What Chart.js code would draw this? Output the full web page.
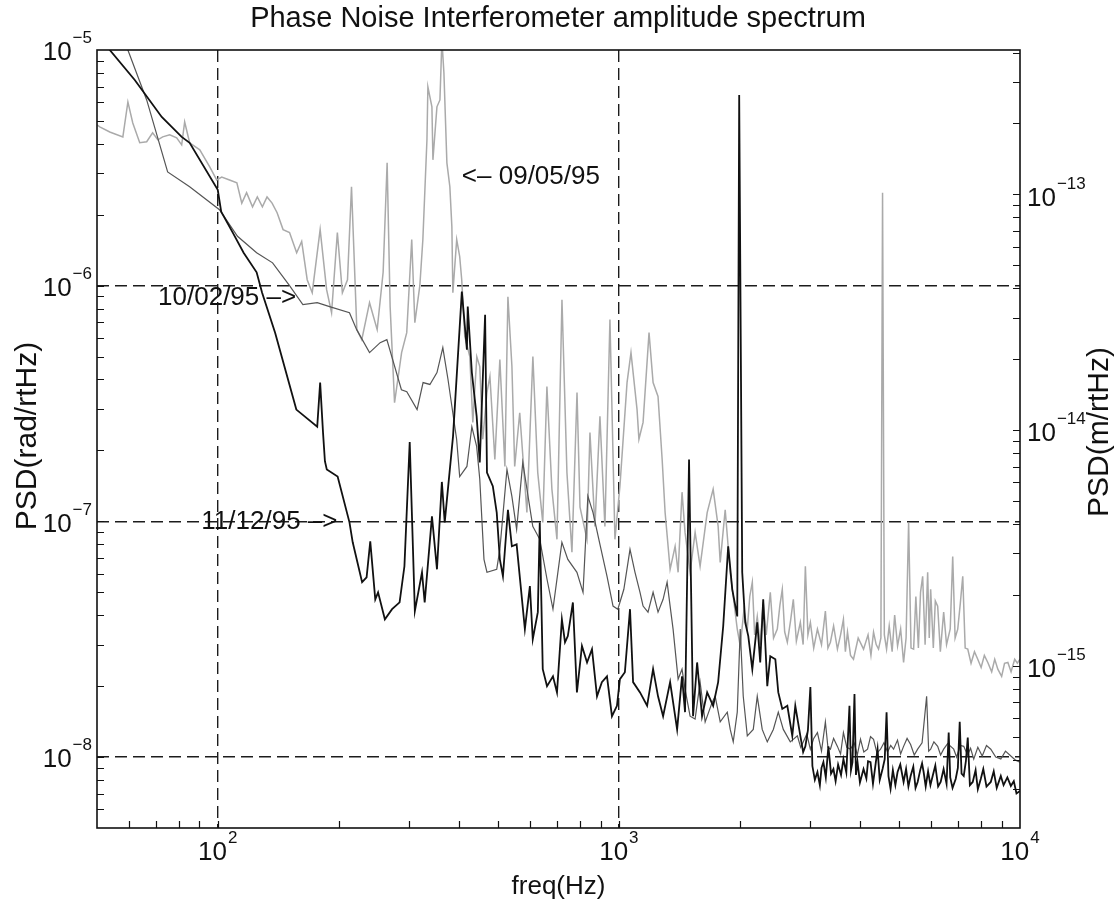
<!DOCTYPE html>
<html>
<head>
<meta charset="utf-8">
<script src="https://cdn.jsdelivr.net/npm/chart.js@4.4.0/dist/chart.umd.min.js"></script>
<style>
html,body{margin:0;padding:0;background:#fff;}
#wrap{width:1116px;height:907px;}
</style>
</head>
<body>
<div id="wrap"><canvas id="c" width="1116" height="907"></canvas></div>
<script>
// ---------- data ----------
const chartTitle = 'Phase Noise Interferometer amplitude spectrum';
const xTitle = 'freq(Hz)';
const yTitle = 'PSD(rad/rtHz)';
const y2Title = 'PSD(m/rtHz)';
const seriesNames = ['11/12/95', '10/02/95', '09/05/95'];

const freq1112 = [50,53.8,62.1,72.5,81.3,85.1,100,102,109,116,125,129,139,157,177,180,183,185,187,199,213,217,229,235,240,247,251,261,272,284,292,301,310,323,328,342,352,362,368,386,406,418,420,430,442,450,464,469,485,496,505,514,529,541,556,583,600,610,628,635,646,662,685,701,721,734,746,768,786,809,833,857,882,907,934,961,989,1006,1035,1066,1085,1129,1176,1217,1252,1289,1342,1397,1437,1462,1496,1531,1567,1612,1660,1718,1768,1820,1873,1917,1973,1995,2030,2065,2102,2151,2213,2251,2290,2344,2385,2455,2497,2555,2630,2706,2753,2834,2880,2917,2960,3002,3037,3080,3126,3170,3200,3235,3280,3329,3380,3427,3470,3520,3580,3629,3690,3757,3790,3823,3867,3900,3935,3990,4073,4140,4180,4240,4300,4360,4415,4470,4543,4600,4649,4700,4757,4820,4890,4952,5030,5126,5200,5270,5337,5420,5490,5557,5640,5700,5751,5820,5900,5980,6057,6150,6250,6342,6450,6560,6641,6700,6790,6913,7000,7075,7150,7240,7330,7409,7500,7624,7750,7850,7983,8100,8250,8456,8600,8750,8957,9100,9300,9488,9650,9800,10000];
const psd1112 = [1.17e-5,1.0e-5,7.46e-6,5.2e-6,4.28e-6,4.04e-6,2.55e-6,2.06e-6,1.68e-6,1.38e-6,1.14e-6,9.34e-7,6.32e-7,2.98e-7,2.52e-7,3.88e-7,2.38e-7,1.80e-7,1.66e-7,1.55e-7,9.9e-8,8.15e-8,5.52e-8,5.79e-8,8.23e-8,4.67e-8,5.0e-8,3.84e-8,4.24e-8,4.53e-8,6.45e-8,2.17e-7,4.16e-8,6.08e-8,4.53e-8,1.05e-7,6.26e-8,1.47e-7,9.9e-8,2.30e-7,9.44e-7,5.35e-7,8.15e-7,4.28e-7,2.79e-7,1.78e-7,7.53e-7,1.61e-7,1.41e-7,1.09e-7,6.90e-8,5.85e-8,1.12e-7,7.84e-8,7.99e-8,3.49e-8,5.31e-8,3.16e-8,4.12e-8,9.9e-8,2.36e-8,2.0e-8,2.2e-8,1.88e-8,3.84e-8,3.07e-8,3.26e-8,4.53e-8,1.88e-8,2.96e-8,2.52e-8,2.87e-8,1.81e-8,2.08e-8,2.2e-8,1.49e-8,1.65e-8,2.14e-8,2.29e-8,4.24e-8,2.08e-8,1.88e-8,1.65e-8,2.36e-8,1.81e-8,1.49e-8,2.08e-8,1.31e-8,2.2e-8,1.55e-8,1.83e-7,1.49e-8,2.52e-8,1.49e-8,1.88e-8,1.65e-8,2.08e-8,3.59e-8,7.84e-8,5.15e-8,3.95e-8,6.45e-6,6.08e-8,3.73e-8,3.26e-8,2.36e-8,3.73e-8,2.52e-8,4.67e-8,2.0e-8,2.68e-8,2.60e-8,1.88e-8,1.60e-8,1.65e-8,1.23e-8,1.65e-8,1.23e-8,1.05e-8,1.11e-8,1.3e-8,1.98e-8,9.16e-9,8.0e-9,8.64e-9,7.6e-9,9.0e-9,9.52e-9,8.2e-9,1.11e-8,8.5e-9,8.9e-9,7.9e-9,9.3e-9,8.4e-9,9.8e-9,8.6e-9,1.65e-8,8.8e-9,9.52e-9,1.85e-8,8.4e-9,9.52e-9,7.8e-9,8.9e-9,8.1e-9,9.6e-9,9.52e-9,7.7e-9,9.2e-9,1.08e-8,8.0e-9,8.9e-9,9.8e-9,1.55e-8,8.3e-9,7.32e-9,8.8e-9,7.6e-9,8.64e-9,9.3e-9,7.84e-9,8.9e-9,7.5e-9,8.31e-9,9.1e-9,7.4e-9,7.84e-9,8.8e-9,9.4e-9,8.64e-9,7.5e-9,8.7e-9,7.6e-9,8.31e-9,9.2e-9,7.5e-9,7.84e-9,8.9e-9,7.7e-9,1.27e-8,8.2e-9,7.4e-9,8.07e-9,9.0e-9,1.41e-8,8.5e-9,8.31e-9,9.6e-9,1.21e-8,7.6e-9,7.84e-9,8.8e-9,7.3e-9,8.07e-9,8.9e-9,7.5e-9,7.84e-9,8.7e-9,7.4e-9,8.31e-9,7.6e-9,8.2e-9,7.54e-9,7.9e-9,7.0e-9,7.18e-9];

const freq1002 = [50,59.7,66.5,75.0,85.1,101,112,125,137,151,163,177,190,213,222,239,254,264,287,296,314,325,338,352,364,375,394,401,418,430,442,450,461,469,496,505,526,541,556,576,610,635,662,685,721,746,786,814,837,862,897,934,967,994,1029,1066,1097,1129,1149,1182,1217,1252,1289,1319,1342,1365,1405,1437,1462,1505,1549,1594,1641,1709,1738,1789,1863,1895,1928,1973,2007,2042,2090,2163,2213,2277,2344,2427,2497,2570,2675,2786,2840,2883,2940,3002,3060,3126,3200,3272,3320,3368,3430,3506,3570,3629,3700,3779,3860,3930,4003,4080,4168,4240,4314,4400,4491,4580,4676,4760,4840,4950,5040,5126,5230,5337,5450,5557,5700,5851,5920,5988,6100,6234,6340,6452,6600,6835,6950,7100,7240,7400,7530,7668,7850,8050,8250,8456,8700,8957,9200,9488,9750,10000];
const psd1002 = [2.2e-5,1.0e-5,6.14e-6,3.04e-6,2.63e-6,2.10e-6,1.62e-6,1.38e-6,1.25e-6,1.0e-6,8.31e-7,8.47e-7,8.15e-7,7.68e-7,6.51e-7,5.2e-7,5.73e-7,5.90e-7,3.62e-7,3.55e-7,2.98e-7,3.88e-7,3.81e-7,4.28e-7,5.46e-7,4.0e-7,2.23e-7,1.55e-7,1.71e-7,2.52e-7,2.08e-7,1.51e-7,6.90e-8,6.08e-8,6.26e-8,7.61e-8,1.66e-7,1.28e-7,9.25e-8,1.78e-7,9.52e-8,8.39e-8,5.68e-8,4.24e-8,8.15e-8,6.90e-8,6.08e-8,5.0e-8,1.28e-7,1.09e-7,7.99e-8,5.85e-8,4.37e-8,4.24e-8,5.15e-8,7.61e-8,6.08e-8,5.0e-8,4.37e-8,4.12e-8,5.0e-8,4.12e-8,4.67e-8,5.52e-8,4.37e-8,3.49e-8,2.14e-8,2.36e-8,1.94e-8,1.49e-8,1.45e-8,2.08e-8,1.41e-8,1.71e-8,1.81e-8,1.41e-8,1.55e-8,1.31e-8,1.16e-8,1.55e-8,3.49e-8,1.81e-8,1.23e-8,1.31e-8,1.81e-8,1.31e-8,1.16e-8,1.31e-8,1.55e-8,1.31e-8,1.16e-8,1.23e-8,1.1e-8,1.16e-8,1.25e-8,1.08e-8,1.2e-8,1.27e-8,1.06e-8,1.41e-8,1.1e-8,1.08e-8,1.2e-8,1.11e-8,1.03e-8,1.27e-8,1.1e-8,1.08e-8,1.15e-8,1.02e-8,1.19e-8,1.05e-8,1.08e-8,1.22e-8,1.19e-8,1.04e-8,1.08e-8,1.15e-8,1.05e-8,1.12e-8,1.08e-8,1.18e-8,1.03e-8,1.11e-8,1.2e-8,1.13e-8,1.02e-8,1.08e-8,1.15e-8,1.81e-8,1.06e-8,1.08e-8,1.16e-8,1.11e-8,1.02e-8,1.08e-8,1.14e-8,1.08e-8,1.0e-8,1.12e-8,1.11e-8,1.02e-8,1.09e-8,9.8e-9,1.1e-8,1.01e-8,1.12e-8,1.08e-8,1.0e-8,9.8e-9,1.06e-8,1.01e-8,9.7e-9,9.52e-9];

const freq0905 = [50,50.8,53.8,58.0,59.7,61.4,63.9,66.5,68.8,70.9,72.9,75.9,79.0,81.3,82.7,85.1,90.2,95.5,99.4,102.3,107,111.6,114.8,118,122.1,125.5,129.2,132.7,136.6,140.6,145.5,151,157.3,161.9,167.1,172,180,186.8,192.2,198.7,204.5,210.6,215.5,222.2,228.6,239,249.7,258.4,264.4,269,275.9,287.3,295.9,304.5,310,319,324.6,332.3,334.1,341.9,343.9,351.9,358,362.1,366.3,372.6,379,383.4,385.6,394.2,401,405.7,412.9,425,432.4,442.4,450,457.8,468.9,477,490.7,505,519.8,528.9,541.2,549.9,566,589.8,610.4,627.7,646,661.6,680.8,700.9,721.3,742.2,763.8,786.4,800,832.6,847,871.6,897,923,950,977.6,1006,1048,1072,1110,1122,1149,1189,1217,1252,1282,1304,1342,1381,1405,1437,1462,1505,1549,1594,1660,1718,1768,1789,1841,1895,1973,2007,2050,2090,2120,2151,2180,2213,2250,2290,2330,2385,2430,2483,2520,2555,2590,2630,2680,2722,2770,2834,2880,2917,2960,3002,3060,3126,3200,3272,3320,3368,3430,3506,3570,3629,3670,3715,3780,3845,3950,4073,4180,4250,4314,4380,4439,4500,4543,4590,4649,4720,4800,4870,4952,5040,5126,5200,5276,5350,5430,5500,5580,5650,5719,5800,5886,5940,5988,6080,6150,6234,6330,6452,6560,6700,6796,6890,6995,7100,7199,7300,7409,7550,7700,7847,8000,8150,8313,8500,8650,8805,9000,9150,9327,9500,9700,9850,10000];
const psd0905 = [4.81e-6,4.72e-6,4.49e-6,4.28e-6,6.02e-6,4.90e-6,4.04e-6,4.08e-6,4.45e-6,4.16e-6,4.28e-6,4.37e-6,4.24e-6,3.96e-6,4.95e-6,4.04e-6,3.77e-6,3.19e-6,2.81e-6,2.89e-6,2.81e-6,2.73e-6,2.24e-6,2.48e-6,2.16e-6,2.38e-6,2.16e-6,2.38e-6,2.24e-6,2.04e-6,1.73e-6,1.68e-6,1.38e-6,1.54e-6,1.06e-6,9.34e-7,1.73e-6,9.62e-7,7.68e-7,1.68e-6,9.34e-7,1.06e-6,2.63e-6,6.51e-7,5.90e-7,8.47e-7,6.51e-7,1.14e-6,3.32e-6,8.15e-7,3.19e-7,5.2e-7,6.32e-7,1.57e-6,6.97e-7,1.0e-6,1.57e-6,4.16e-6,6.97e-6,5.74e-6,3.42e-6,5.74e-6,6.14e-6,1.1e-5,7.99e-6,3.32e-6,2.63e-6,1.78e-6,9.34e-7,1.57e-6,1.33e-6,1.06e-6,6.08e-7,5.0e-7,2.63e-7,5.0e-7,4.54e-7,2.23e-7,3.52e-7,4.12e-7,1.83e-7,4.86e-7,1.71e-7,8.98e-7,4.54e-7,1.71e-7,2.89e-7,1.09e-7,5.0e-7,1.61e-7,9.9e-8,3.73e-7,1.37e-7,8.39e-8,8.72e-7,1.61e-7,7.39e-8,3.52e-7,1.15e-7,8.39e-8,2.38e-7,9.52e-8,2.79e-7,9.52e-8,7.18e-7,8.39e-8,1.41e-7,3.88e-7,5.2e-7,2.98e-7,2.23e-7,2.63e-7,6.32e-7,3.88e-7,3.39e-7,1.83e-7,1.09e-7,6.26e-8,7.84e-8,6.08e-8,1.33e-7,8.98e-8,6.08e-8,8.98e-8,6.45e-8,1.09e-7,1.37e-7,9.52e-8,6.70e-8,1.12e-7,6.08e-8,3.49e-8,2.96e-8,4.2e-8,3.49e-8,4.8e-8,5.52e-8,3.3e-8,3.95e-8,3.0e-8,4.53e-8,3.3e-8,5.0e-8,3.2e-8,3.49e-8,4.4e-8,5.15e-8,3.4e-8,3.07e-8,3.8e-8,4.67e-8,3.1e-8,3.73e-8,3.0e-8,6.45e-8,3.3e-8,3.73e-8,2.9e-8,3.49e-8,3.0e-8,4.16e-8,2.9e-8,3.07e-8,3.6e-8,2.87e-8,3.3e-8,3.84e-8,2.8e-8,3.39e-8,2.7e-8,2.60e-8,3.2e-8,2.87e-8,3.3e-8,2.7e-8,3.39e-8,3.0e-8,2.87e-8,3.2e-8,2.48e-6,3.3e-8,2.87e-8,3.6e-8,2.8e-8,4.0e-8,2.96e-8,3.5e-8,2.52e-8,3.2e-8,9.9e-8,2.9e-8,2.87e-8,4.8e-8,2.9e-8,5.0e-8,5.85e-8,3.0e-8,6.08e-8,3.2e-8,5.15e-8,2.9e-8,4.6e-8,4.37e-8,2.8e-8,4.12e-8,3.0e-8,3.5e-8,7.1e-8,3.2e-8,3.49e-8,4.5e-8,5.85e-8,2.9e-8,2.87e-8,2.5e-8,2.8e-8,2.60e-8,2.4e-8,2.7e-8,2.52e-8,2.3e-8,2.6e-8,2.36e-8,2.2e-8,2.5e-8,2.52e-8,2.3e-8,2.6e-8,2.5e-8,2.60e-8];

// axis ranges and tick-label decades
const xRange = [50, 10000];
const yRange = [5e-9, 1e-5];
const radToMetre = 4.1e-8;               // right axis = left axis * this factor
const xDecades = [2, 3, 4];
const yDecades = [-5, -6, -7, -8];
const y2Decades = [-13, -14, -15];
// in-plot annotations: [text, freq, psd]
const notes = [
  ['<\u2013 09/05/95', 406, 2.9e-6],
  ['10/02/95 \u2013>', 71.0, 8.9e-7],
  ['11/12/95 \u2013>', 91.0, 1.0e-7]
];

// ---------- rendering ----------
const FONT = "'Liberation Sans', Arial, Helvetica, sans-serif";
const toPts = (xs, ys) => xs.map((x, i) => ({x: x, y: ys[i]}));
const isDecade = v => { const l = Math.log10(v); return Math.abs(l - Math.round(l)) < 1e-6; };
const gridCol = (c, lo, hi) => {
  if (!c.tick) return 'rgba(0,0,0,0)';
  const v = c.tick.value;
  return (isDecade(v) && v > lo * 1.001 && v < hi / 1.001) ? '#1c1c1c' : 'rgba(0,0,0,0)';
};
const tickVals = (lo, hi) => {
  const out = [];
  for (let e = Math.floor(Math.log10(lo)) - 1; e <= Math.ceil(Math.log10(hi)); e++) {
    for (let k = 1; k < 10; k++) {
      const v = k * Math.pow(10, e);
      if (v > lo * 1.0001 && v < hi / 1.0001) out.push(v);
    }
  }
  return out;
};

function drawPow(ctx, ex, x, yMid, align, bs, es) {
  const b = '10';
  const e = ex < 0 ? '\u2212' + Math.abs(ex) : String(ex);
  ctx.font = bs + 'px ' + FONT; const wb = ctx.measureText(b).width;
  ctx.font = es + 'px ' + FONT; const we = ctx.measureText(e).width;
  const total = wb + 1 + we;
  const x0 = align === 'right' ? x - total : (align === 'center' ? x - total / 2 : x);
  ctx.textAlign = 'left'; ctx.textBaseline = 'middle';
  ctx.font = bs + 'px ' + FONT; ctx.fillText(b, x0, yMid);
  ctx.font = es + 'px ' + FONT; ctx.fillText(e, x0 + wb + 1, yMid - bs * 0.55);
}

const decor = {
  id: 'decor',
  afterDraw(chart) {
    const {ctx, chartArea: a, scales} = chart;
    ctx.save();
    ctx.setLineDash([]);
    // inward tick marks
    ctx.strokeStyle = '#111'; ctx.lineWidth = 1.2;
    ctx.beginPath();
    for (const v of tickVals(xRange[0], xRange[1])) {
      const x = Math.round(scales.x.getPixelForValue(v)) + 0.5;
      ctx.moveTo(x, a.bottom); ctx.lineTo(x, a.bottom - 7);
    }
    for (const v of tickVals(yRange[0], yRange[1])) {
      const y = Math.round(scales.y.getPixelForValue(v)) + 0.5;
      ctx.moveTo(a.left, y); ctx.lineTo(a.left + 7, y);
    }
    for (const v of tickVals(yRange[0] * radToMetre, yRange[1] * radToMetre)) {
      const y = Math.round(scales.y2.getPixelForValue(v)) + 0.5;
      ctx.moveTo(a.right, y); ctx.lineTo(a.right - 7, y);
    }
    ctx.stroke();
    // frame
    ctx.lineWidth = 1.6; ctx.strokeStyle = '#111';
    ctx.strokeRect(a.left, a.top, a.right - a.left, a.bottom - a.top);
    // tick labels
    ctx.fillStyle = '#111';
    for (const ex of xDecades) drawPow(ctx, ex, scales.x.getPixelForValue(Math.pow(10, ex)), a.bottom + 25, 'center', 26, 17);
    for (const ex of yDecades) drawPow(ctx, ex, a.left - 5, scales.y.getPixelForValue(Math.pow(10, ex)) + 3, 'right', 26, 17);
    for (const ex of y2Decades) drawPow(ctx, ex, a.right + 7, scales.y2.getPixelForValue(Math.pow(10, ex)) + 4, 'left', 26, 17);
    // axis titles
    ctx.textAlign = 'center'; ctx.textBaseline = 'middle';
    ctx.font = '26px ' + FONT;
    ctx.fillText(xTitle, (a.left + a.right) / 2, a.bottom + 59);
    ctx.font = '30px ' + FONT;
    ctx.save(); ctx.translate(28, 436); ctx.rotate(-Math.PI / 2); ctx.fillText(yTitle, 0, 0); ctx.restore();
    ctx.save(); ctx.translate(1100, 432); ctx.rotate(-Math.PI / 2); ctx.fillText(y2Title, 0, 0); ctx.restore();
    // annotations
    ctx.font = '26px ' + FONT; ctx.textAlign = 'left'; ctx.textBaseline = 'middle';
    for (const [t, f, p] of notes) ctx.fillText(t, scales.x.getPixelForValue(f), scales.y.getPixelForValue(p));
    ctx.restore();
  }
};

new Chart(document.getElementById('c'), {
  type: 'line',
  data: {
    datasets: [
      {label: seriesNames[0], data: toPts(freq1112, psd1112), borderColor: '#111', borderWidth: 1.8, order: 0},
      {label: seriesNames[1], data: toPts(freq1002, psd1002), borderColor: '#555', borderWidth: 1.2, order: 1},
      {label: seriesNames[2], data: toPts(freq0905, psd0905), borderColor: '#aaaaaa', borderWidth: 1.5, order: 2}
    ]
  },
  options: {
    responsive: false,
    animation: false,
    events: [],
    elements: {point: {radius: 0}, line: {tension: 0, fill: false}},
    layout: {padding: 0},
    plugins: {
      legend: {display: false},
      tooltip: {enabled: false},
      title: {display: true, text: chartTitle, color: '#111',
        font: {family: FONT, size: 29, weight: 'normal', lineHeight: 1.2},
        padding: {top: 1.5, bottom: 13.7}}
    },
    scales: {
      x: {type: 'logarithmic', position: 'bottom', min: xRange[0], max: xRange[1],
        grid: {color: c => gridCol(c, xRange[0], xRange[1]), lineWidth: 1.4, drawTicks: false},
        border: {display: false, dash: [12, 6]},
        ticks: {display: false},
        afterFit: s => { s.height = 79; }},
      y: {type: 'logarithmic', position: 'left', min: yRange[0], max: yRange[1],
        grid: {color: c => gridCol(c, yRange[0], yRange[1]), lineWidth: 1.4, drawTicks: false},
        border: {display: false, dash: [12, 6]},
        ticks: {display: false},
        afterFit: s => { s.width = 97; }},
      y2: {type: 'logarithmic', position: 'right', min: yRange[0] * radToMetre, max: yRange[1] * radToMetre,
        grid: {display: false, drawTicks: false},
        border: {display: false},
        ticks: {display: false},
        afterFit: s => { s.width = 96; }}
    }
  },
  plugins: [decor]
});
</script>
</body>
</html>
